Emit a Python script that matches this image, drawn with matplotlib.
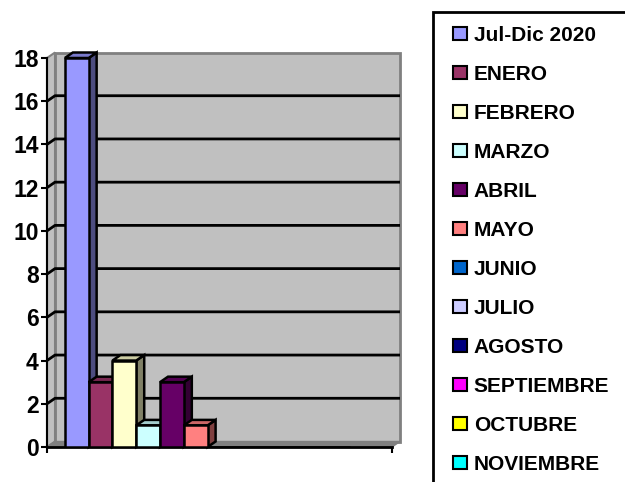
import matplotlib.pyplot as plt
import matplotlib.patches as mpatches
from matplotlib.legend_handler import HandlerPatch
from matplotlib.colors import to_rgb

plt.rcParams['font.family'] = ['Liberation Sans', 'DejaVu Sans']
plt.rcParams['font.weight'] = 'bold'

# data
series = ['Jul-Dic 2020', 'ENERO', 'FEBRERO', 'MARZO', 'ABRIL', 'MAYO',
          'JUNIO', 'JULIO', 'AGOSTO', 'SEPTIEMBRE', 'OCTUBRE', 'NOVIEMBRE']
values = [18, 3, 4, 1, 3, 1, 0, 0, 0, 0, 0, 0]
colors = ['#9999FF', '#993366', '#FFFFCC', '#CCFFFF', '#660066', '#FF8080',
          '#0066CC', '#CCCCFF', '#000080', '#FF00FF', '#FFFF00', '#00FFFF']
yticks = [0, 2, 4, 6, 8, 10, 12, 14, 16, 18]

W, H = 625, 482
fig = plt.figure(figsize=(W / 100, H / 100), dpi=100)
ax = fig.add_axes([47 / W, 35 / H, 345 / W, 389 / H])

XMIN, XMAX = -0.75, 13.75
YMAX = 18
ax.set_xlim(XMIN, XMAX)
ax.set_ylim(0, YMAX)

# 3d depth offset (px converted to data units)
DX = 8 / (345 / (XMAX - XMIN))
DY = 5.5 / (389 / YMAX)


def shade(c, f):
    r, g, b = to_rgb(c)
    return (r * f, g * f, b * f)


# walls and floor
ax.add_patch(mpatches.Polygon([(XMIN + DX, DY), (XMAX + DX, DY), (XMAX + DX, YMAX + DY), (XMIN + DX, YMAX + DY)],
                              closed=True, fc='#C0C0C0', ec='#808080', lw=2, clip_on=False, zorder=0))
ax.add_patch(mpatches.Polygon([(XMIN, 0), (XMIN + DX, DY), (XMIN + DX, YMAX + DY), (XMIN, YMAX)],
                              closed=True, fc='#C0C0C0', ec='#808080', lw=1.5, clip_on=False, zorder=0))
ax.add_patch(mpatches.Polygon([(XMIN, 0), (XMAX, 0), (XMAX + DX, DY), (XMIN + DX, DY)],
                              closed=True, fc='#808080', ec='#808080', lw=1, clip_on=False, zorder=0.5))

# gridlines on left and back wall
for v in yticks[1:-1]:
    ax.plot([XMIN, XMIN + DX, XMAX + DX], [v, v + DY, v + DY], color='black', lw=2,
            clip_on=False, zorder=1, solid_capstyle='butt')

# bars
handles = []
for i, (name, v, c) in enumerate(zip(series, values, colors)):
    z = 3 + i
    b = ax.bar(i, v, width=1, align='edge', color=c, edgecolor='black', lw=1.8, zorder=z + 0.5, label=name)
    handles.append(b.patches[0])
    if v > 0:
        ax.add_patch(mpatches.Polygon([(i + 1, 0), (i + 1 + DX, DY), (i + 1 + DX, v + DY), (i + 1, v)],
                                      closed=True, fc=shade(c, 0.5), ec='black', lw=1.8, zorder=z,
                                      clip_on=False))
        ax.add_patch(mpatches.Polygon([(i, v), (i + 1, v), (i + 1 + DX, v + DY), (i + DX, v + DY)],
                                      closed=True, fc=shade(c, 0.8), ec='black', lw=1.8, zorder=z,
                                      clip_on=False, joinstyle='miter'))

# axes styling
ax.patch.set_visible(False)
for s in ['top', 'right']:
    ax.spines[s].set_visible(False)
ax.spines['left'].set_linewidth(1.5)
ax.spines['bottom'].set_linewidth(2)
ax.spines['bottom'].set_zorder(2)
ax.set_yticks(yticks)
ax.set_yticklabels([str(t) for t in yticks], fontsize=16.5, fontweight='bold')
ax.set_xticks([XMIN, XMAX])
ax.set_xticklabels(['', ''])
ax.tick_params(axis='both', direction='out', length=4, width=1.5, color='black')
ax.tick_params(axis='y', pad=2)


def square_patch(legend, orig_handle, xdescent, ydescent, width, height, fontsize):
    s = 9.8
    return mpatches.Rectangle((width - s - xdescent, -ydescent + (height - s) / 2), s, s)


leg = ax.legend(handles, series, loc='upper left',
                bbox_to_anchor=(433 / W, 0, 300 / W, 1 - 12 / H), bbox_transform=fig.transFigure,
                mode='expand', borderaxespad=0, fancybox=False, framealpha=1,
                prop={'weight': 'bold', 'size': 15}, handlelength=0.97, handleheight=0.7,
                handletextpad=0.33, labelspacing=0.96, borderpad=0.66,
                handler_map={mpatches.Rectangle: HandlerPatch(patch_func=square_patch)})
leg.get_frame().set_edgecolor('black')
leg.get_frame().set_linewidth(2)
for p in leg.get_patches():
    p.set_edgecolor('black')
    p.set_linewidth(1.5)

fig.savefig('out.png', dpi=100)
